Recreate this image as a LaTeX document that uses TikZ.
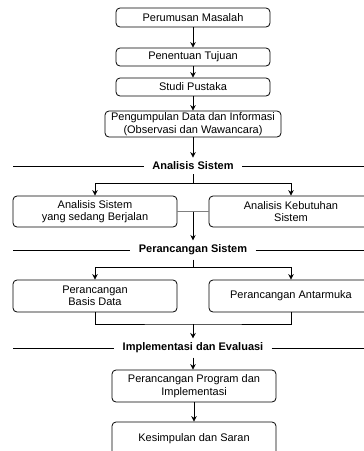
\documentclass[tikz,border=0pt]{standalone}
\usepackage{fontspec}
\setmainfont{Liberation Sans}
\usetikzlibrary{arrows.meta}

\begin{document}
\begin{tikzpicture}[x=1pt,y=-1pt,line width=0.8pt,
  box/.style={draw,rounded corners=4pt,align=center,inner sep=0pt,
    font=\fontsize{11}{12.5}\selectfont},
  sect/.style={inner xsep=8pt,inner ysep=4pt,font=\bfseries\fontsize{11}{12.5}\selectfont},
  flow/.style={-{Stealth[length=5.5pt,width=5.5pt]}}]
\useasboundingbox (0,0) rectangle (364,451);
\clip (0,0) rectangle (364,451);
\coordinate (l) at (13,0); \coordinate (r) at (364,0);

% tahap awal
\node[box,minimum width=154pt,minimum height=19pt] (pm) at (193,17.5) {Perumusan Masalah};
\node[box,minimum width=154pt,minimum height=18pt] (pt) at (193,57) {Penentuan Tujuan};
\node[box,minimum width=154pt,minimum height=18pt] (sp) at (193,87) {Studi Pustaka};
\node[box,minimum width=176pt,minimum height=26pt] (pd) at (193,124) {Pengumpulan Data dan Informasi\\(Observasi dan Wawancara)};
\draw[flow] (pm) -- (pt);
\draw[flow] (pt) -- (sp);
\draw[flow] (sp) -- (pd);

% analisis
\node[sect] (as) at (193,166) {Analisis Sistem};
\node[box,minimum width=164pt,minimum height=31pt] (sb) at (95,211.5) {Analisis Sistem\\yang sedang Berjalan};
\node[box,minimum width=164pt,minimum height=31pt] (kb) at (291,211.5) {Analisis Kebutuhan\\Sistem};
\coordinate (f1) at (193,183);
\draw[flow] (pd) -- (as);
\draw (as) -- (f1);
\draw[flow] (f1) -| (sb);
\draw[flow] (f1) -| (kb);
\draw[gray] (sb) -- (kb) coordinate[midway] (m1);

% perancangan
\node[sect] (ps) at (193,250) {Perancangan Sistem};
\node[box,minimum width=164pt,minimum height=32pt] (bd) at (95,296) {Perancangan\\Basis Data};
\node[box,minimum width=164pt,minimum height=32pt] (am) at (291,296) {Perancangan Antarmuka};
\coordinate (f2) at (193,267);
\coordinate (j2) at (193,324);
\draw[flow] (m1) -- (ps);
\draw (ps) -- (f2);
\draw[flow] (f2) -| (bd);
\draw[flow] (f2) -| (am);
\draw (bd) |- (j2) -| (am);

% implementasi
\node[sect] (ie) at (193,348) {Implementasi dan Evaluasi};
\node[box,minimum width=164pt,minimum height=32pt] (pi) at (194,386) {Perancangan Program dan\\Implementasi};
\node[box,minimum width=164pt,minimum height=34pt] (ks) at (194,439) {Kesimpulan dan Saran};
\draw[flow] (j2) -- (ie);
\draw[flow] (ie) -- (ie |- pi.north);
\draw[flow] (pi) -- (ks);

\foreach \n in {as,ps,ie}{
  \draw (\n.west -| l) -- (\n.west);
  \draw (\n.east) -- (\n.east -| r);
}
\end{tikzpicture}
\end{document}
